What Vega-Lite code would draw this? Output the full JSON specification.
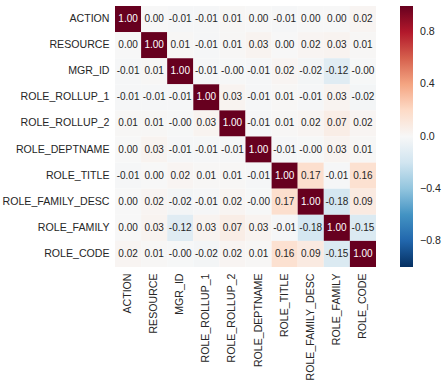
{
  "$schema": "https://vega.github.io/schema/vega-lite/v6.json",
  "width": 261,
  "height": 261,
  "padding": {"left": 2, "top": 6, "right": 5, "bottom": 2},
  "background": "white",
  "config": {
    "view": {"stroke": null},
    "font": "Liberation Sans",
    "axis": {"labelFont": "Liberation Sans", "labelFontSize": 10.6, "labelColor": "#262626", "domain": false, "ticks": false, "grid": false, "title": null, "labelPadding": 6},
    "legend": {"labelFont": "Liberation Sans", "labelFontSize": 10.6, "labelColor": "#262626"}
  },
  "datasets": {
    "corr": [
      {"row": "ACTION", "col": "ACTION", "value": 1.0, "label": "1.00"},
      {"row": "ACTION", "col": "RESOURCE", "value": 0.0, "label": "0.00"},
      {"row": "ACTION", "col": "MGR_ID", "value": -0.01, "label": "-0.01"},
      {"row": "ACTION", "col": "ROLE_ROLLUP_1", "value": -0.01, "label": "-0.01"},
      {"row": "ACTION", "col": "ROLE_ROLLUP_2", "value": 0.01, "label": "0.01"},
      {"row": "ACTION", "col": "ROLE_DEPTNAME", "value": 0.0, "label": "0.00"},
      {"row": "ACTION", "col": "ROLE_TITLE", "value": -0.01, "label": "-0.01"},
      {"row": "ACTION", "col": "ROLE_FAMILY_DESC", "value": 0.0, "label": "0.00"},
      {"row": "ACTION", "col": "ROLE_FAMILY", "value": 0.0, "label": "0.00"},
      {"row": "ACTION", "col": "ROLE_CODE", "value": 0.02, "label": "0.02"},

      {"row": "RESOURCE", "col": "ACTION", "value": 0.0, "label": "0.00"},
      {"row": "RESOURCE", "col": "RESOURCE", "value": 1.0, "label": "1.00"},
      {"row": "RESOURCE", "col": "MGR_ID", "value": 0.01, "label": "0.01"},
      {"row": "RESOURCE", "col": "ROLE_ROLLUP_1", "value": -0.01, "label": "-0.01"},
      {"row": "RESOURCE", "col": "ROLE_ROLLUP_2", "value": 0.01, "label": "0.01"},
      {"row": "RESOURCE", "col": "ROLE_DEPTNAME", "value": 0.03, "label": "0.03"},
      {"row": "RESOURCE", "col": "ROLE_TITLE", "value": 0.0, "label": "0.00"},
      {"row": "RESOURCE", "col": "ROLE_FAMILY_DESC", "value": 0.02, "label": "0.02"},
      {"row": "RESOURCE", "col": "ROLE_FAMILY", "value": 0.03, "label": "0.03"},
      {"row": "RESOURCE", "col": "ROLE_CODE", "value": 0.01, "label": "0.01"},

      {"row": "MGR_ID", "col": "ACTION", "value": -0.01, "label": "-0.01"},
      {"row": "MGR_ID", "col": "RESOURCE", "value": 0.01, "label": "0.01"},
      {"row": "MGR_ID", "col": "MGR_ID", "value": 1.0, "label": "1.00"},
      {"row": "MGR_ID", "col": "ROLE_ROLLUP_1", "value": -0.01, "label": "-0.01"},
      {"row": "MGR_ID", "col": "ROLE_ROLLUP_2", "value": -0.003, "label": "-0.00"},
      {"row": "MGR_ID", "col": "ROLE_DEPTNAME", "value": -0.01, "label": "-0.01"},
      {"row": "MGR_ID", "col": "ROLE_TITLE", "value": 0.02, "label": "0.02"},
      {"row": "MGR_ID", "col": "ROLE_FAMILY_DESC", "value": -0.02, "label": "-0.02"},
      {"row": "MGR_ID", "col": "ROLE_FAMILY", "value": -0.12, "label": "-0.12"},
      {"row": "MGR_ID", "col": "ROLE_CODE", "value": -0.003, "label": "-0.00"},

      {"row": "ROLE_ROLLUP_1", "col": "ACTION", "value": -0.01, "label": "-0.01"},
      {"row": "ROLE_ROLLUP_1", "col": "RESOURCE", "value": -0.01, "label": "-0.01"},
      {"row": "ROLE_ROLLUP_1", "col": "MGR_ID", "value": -0.01, "label": "-0.01"},
      {"row": "ROLE_ROLLUP_1", "col": "ROLE_ROLLUP_1", "value": 1.0, "label": "1.00"},
      {"row": "ROLE_ROLLUP_1", "col": "ROLE_ROLLUP_2", "value": 0.03, "label": "0.03"},
      {"row": "ROLE_ROLLUP_1", "col": "ROLE_DEPTNAME", "value": -0.01, "label": "-0.01"},
      {"row": "ROLE_ROLLUP_1", "col": "ROLE_TITLE", "value": 0.01, "label": "0.01"},
      {"row": "ROLE_ROLLUP_1", "col": "ROLE_FAMILY_DESC", "value": -0.01, "label": "-0.01"},
      {"row": "ROLE_ROLLUP_1", "col": "ROLE_FAMILY", "value": 0.03, "label": "0.03"},
      {"row": "ROLE_ROLLUP_1", "col": "ROLE_CODE", "value": -0.02, "label": "-0.02"},

      {"row": "ROLE_ROLLUP_2", "col": "ACTION", "value": 0.01, "label": "0.01"},
      {"row": "ROLE_ROLLUP_2", "col": "RESOURCE", "value": 0.01, "label": "0.01"},
      {"row": "ROLE_ROLLUP_2", "col": "MGR_ID", "value": -0.003, "label": "-0.00"},
      {"row": "ROLE_ROLLUP_2", "col": "ROLE_ROLLUP_1", "value": 0.03, "label": "0.03"},
      {"row": "ROLE_ROLLUP_2", "col": "ROLE_ROLLUP_2", "value": 1.0, "label": "1.00"},
      {"row": "ROLE_ROLLUP_2", "col": "ROLE_DEPTNAME", "value": -0.01, "label": "-0.01"},
      {"row": "ROLE_ROLLUP_2", "col": "ROLE_TITLE", "value": 0.01, "label": "0.01"},
      {"row": "ROLE_ROLLUP_2", "col": "ROLE_FAMILY_DESC", "value": 0.02, "label": "0.02"},
      {"row": "ROLE_ROLLUP_2", "col": "ROLE_FAMILY", "value": 0.07, "label": "0.07"},
      {"row": "ROLE_ROLLUP_2", "col": "ROLE_CODE", "value": 0.02, "label": "0.02"},

      {"row": "ROLE_DEPTNAME", "col": "ACTION", "value": 0.0, "label": "0.00"},
      {"row": "ROLE_DEPTNAME", "col": "RESOURCE", "value": 0.03, "label": "0.03"},
      {"row": "ROLE_DEPTNAME", "col": "MGR_ID", "value": -0.01, "label": "-0.01"},
      {"row": "ROLE_DEPTNAME", "col": "ROLE_ROLLUP_1", "value": -0.01, "label": "-0.01"},
      {"row": "ROLE_DEPTNAME", "col": "ROLE_ROLLUP_2", "value": -0.01, "label": "-0.01"},
      {"row": "ROLE_DEPTNAME", "col": "ROLE_DEPTNAME", "value": 1.0, "label": "1.00"},
      {"row": "ROLE_DEPTNAME", "col": "ROLE_TITLE", "value": -0.01, "label": "-0.01"},
      {"row": "ROLE_DEPTNAME", "col": "ROLE_FAMILY_DESC", "value": -0.003, "label": "-0.00"},
      {"row": "ROLE_DEPTNAME", "col": "ROLE_FAMILY", "value": 0.03, "label": "0.03"},
      {"row": "ROLE_DEPTNAME", "col": "ROLE_CODE", "value": 0.01, "label": "0.01"},

      {"row": "ROLE_TITLE", "col": "ACTION", "value": -0.01, "label": "-0.01"},
      {"row": "ROLE_TITLE", "col": "RESOURCE", "value": 0.0, "label": "0.00"},
      {"row": "ROLE_TITLE", "col": "MGR_ID", "value": 0.02, "label": "0.02"},
      {"row": "ROLE_TITLE", "col": "ROLE_ROLLUP_1", "value": 0.01, "label": "0.01"},
      {"row": "ROLE_TITLE", "col": "ROLE_ROLLUP_2", "value": 0.01, "label": "0.01"},
      {"row": "ROLE_TITLE", "col": "ROLE_DEPTNAME", "value": -0.01, "label": "-0.01"},
      {"row": "ROLE_TITLE", "col": "ROLE_TITLE", "value": 1.0, "label": "1.00"},
      {"row": "ROLE_TITLE", "col": "ROLE_FAMILY_DESC", "value": 0.17, "label": "0.17"},
      {"row": "ROLE_TITLE", "col": "ROLE_FAMILY", "value": -0.01, "label": "-0.01"},
      {"row": "ROLE_TITLE", "col": "ROLE_CODE", "value": 0.16, "label": "0.16"},

      {"row": "ROLE_FAMILY_DESC", "col": "ACTION", "value": 0.0, "label": "0.00"},
      {"row": "ROLE_FAMILY_DESC", "col": "RESOURCE", "value": 0.02, "label": "0.02"},
      {"row": "ROLE_FAMILY_DESC", "col": "MGR_ID", "value": -0.02, "label": "-0.02"},
      {"row": "ROLE_FAMILY_DESC", "col": "ROLE_ROLLUP_1", "value": -0.01, "label": "-0.01"},
      {"row": "ROLE_FAMILY_DESC", "col": "ROLE_ROLLUP_2", "value": 0.02, "label": "0.02"},
      {"row": "ROLE_FAMILY_DESC", "col": "ROLE_DEPTNAME", "value": -0.003, "label": "-0.00"},
      {"row": "ROLE_FAMILY_DESC", "col": "ROLE_TITLE", "value": 0.17, "label": "0.17"},
      {"row": "ROLE_FAMILY_DESC", "col": "ROLE_FAMILY_DESC", "value": 1.0, "label": "1.00"},
      {"row": "ROLE_FAMILY_DESC", "col": "ROLE_FAMILY", "value": -0.18, "label": "-0.18"},
      {"row": "ROLE_FAMILY_DESC", "col": "ROLE_CODE", "value": 0.09, "label": "0.09"},

      {"row": "ROLE_FAMILY", "col": "ACTION", "value": 0.0, "label": "0.00"},
      {"row": "ROLE_FAMILY", "col": "RESOURCE", "value": 0.03, "label": "0.03"},
      {"row": "ROLE_FAMILY", "col": "MGR_ID", "value": -0.12, "label": "-0.12"},
      {"row": "ROLE_FAMILY", "col": "ROLE_ROLLUP_1", "value": 0.03, "label": "0.03"},
      {"row": "ROLE_FAMILY", "col": "ROLE_ROLLUP_2", "value": 0.07, "label": "0.07"},
      {"row": "ROLE_FAMILY", "col": "ROLE_DEPTNAME", "value": 0.03, "label": "0.03"},
      {"row": "ROLE_FAMILY", "col": "ROLE_TITLE", "value": -0.01, "label": "-0.01"},
      {"row": "ROLE_FAMILY", "col": "ROLE_FAMILY_DESC", "value": -0.18, "label": "-0.18"},
      {"row": "ROLE_FAMILY", "col": "ROLE_FAMILY", "value": 1.0, "label": "1.00"},
      {"row": "ROLE_FAMILY", "col": "ROLE_CODE", "value": -0.15, "label": "-0.15"},

      {"row": "ROLE_CODE", "col": "ACTION", "value": 0.02, "label": "0.02"},
      {"row": "ROLE_CODE", "col": "RESOURCE", "value": 0.01, "label": "0.01"},
      {"row": "ROLE_CODE", "col": "MGR_ID", "value": -0.003, "label": "-0.00"},
      {"row": "ROLE_CODE", "col": "ROLE_ROLLUP_1", "value": -0.02, "label": "-0.02"},
      {"row": "ROLE_CODE", "col": "ROLE_ROLLUP_2", "value": 0.02, "label": "0.02"},
      {"row": "ROLE_CODE", "col": "ROLE_DEPTNAME", "value": 0.01, "label": "0.01"},
      {"row": "ROLE_CODE", "col": "ROLE_TITLE", "value": 0.16, "label": "0.16"},
      {"row": "ROLE_CODE", "col": "ROLE_FAMILY_DESC", "value": 0.09, "label": "0.09"},
      {"row": "ROLE_CODE", "col": "ROLE_FAMILY", "value": -0.15, "label": "-0.15"},
      {"row": "ROLE_CODE", "col": "ROLE_CODE", "value": 1.0, "label": "1.00"}
    ]
  },
  "data": {"name": "corr"},
  "encoding": {
    "x": {
      "field": "col", "type": "nominal",
      "sort": ["ACTION", "RESOURCE", "MGR_ID", "ROLE_ROLLUP_1", "ROLE_ROLLUP_2", "ROLE_DEPTNAME", "ROLE_TITLE", "ROLE_FAMILY_DESC", "ROLE_FAMILY", "ROLE_CODE"],
      "scale": {"paddingInner": 0, "paddingOuter": 0},
      "axis": {"labelAngle": -90, "orient": "bottom"}
    },
    "y": {
      "field": "row", "type": "nominal",
      "sort": ["ACTION", "RESOURCE", "MGR_ID", "ROLE_ROLLUP_1", "ROLE_ROLLUP_2", "ROLE_DEPTNAME", "ROLE_TITLE", "ROLE_FAMILY_DESC", "ROLE_FAMILY", "ROLE_CODE"],
      "scale": {"paddingInner": 0, "paddingOuter": 0},
      "axis": {"orient": "left"}
    }
  },
  "layer": [
    {
      "mark": {"type": "rect"},
      "encoding": {
        "fill": {
          "field": "value", "type": "quantitative",
          "scale": {
            "type": "linear",
            "domain": [-1, -0.8, -0.6, -0.4, -0.2, 0, 0.2, 0.4, 0.6, 0.8, 1],
            "range": ["#053061", "#2166ac", "#4393c3", "#92c5de", "#d1e5f0", "#f7f7f7", "#fddbc7", "#f4a582", "#d6604d", "#b2182b", "#67001f"],
            "interpolate": "rgb"
          },
          "legend": {
            "title": null,
            "direction": "vertical",
            "orient": "right",
            "offset": 24,
            "gradientLength": 261,
            "gradientThickness": 13,
            "gradientStrokeWidth": 0,
            "values": [-0.8, -0.4, 0, 0.4, 0.8],
            "format": ".1f",
            "labelOffset": 7,
            "labelOverlap": false,
            "padding": 0
          }
        }
      }
    },
    {
      "mark": {"type": "text", "fontSize": 10, "font": "Liberation Sans"},
      "encoding": {
        "text": {"field": "label", "type": "nominal"},
        "fill": {
          "condition": {"test": "datum.value > 0.6", "value": "#ffffff"},
          "value": "#262626"
        }
      }
    }
  ]
}
